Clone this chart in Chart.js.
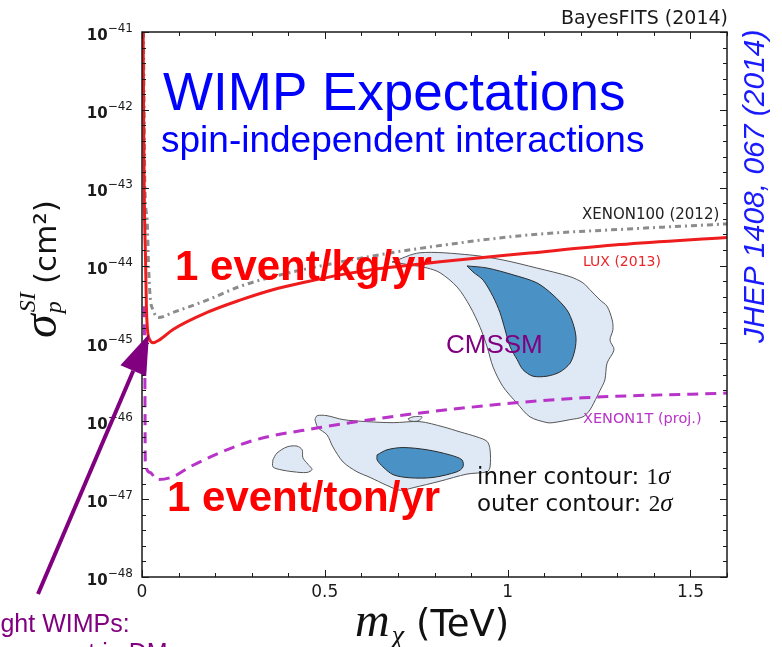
<!DOCTYPE html>
<html>
<head>
<meta charset="utf-8">
<script src="https://cdn.jsdelivr.net/npm/chart.js@4/dist/chart.umd.min.js"></script>
<style>
  html, body { margin: 0; padding: 0; background: #fff; overflow: hidden; }
  canvas { display: block; }
</style>
</head>
<body>
<canvas id="c" width="782" height="647"></canvas>
<script>
// Spin-independent WIMP-proton cross-section (cm^2) against WIMP mass (TeV)

// LUX (2013) exclusion limit
const luxMass  = [0.003, 0.006, 0.010, 0.012, 0.015, 0.021, 0.030, 0.049, 0.085, 0.178, 0.268, 0.358, 0.451, 0.542, 0.632, 0.725, 0.815, 1.060, 1.307, 1.600];
const luxSigma = [1e-41, 1e-43, 1e-44, 3e-45, 1.5e-45, 1.12e-45, 1.02e-45, 1.12e-45, 1.51e-45, 2.5e-45, 3.6e-45, 4.9e-45, 6.2e-45, 7.6e-45, 8.9e-45, 1.0e-44, 1.12e-44, 1.45e-44, 1.86e-44, 2.3e-44];

// XENON100 (2012) exclusion limit
const xenon100Mass  = [0.004, 0.008, 0.014, 0.018, 0.022, 0.030, 0.045, 0.085, 0.178, 0.268, 0.358, 0.632, 0.790, 1.060, 1.330, 1.600];
const xenon100Sigma = [1e-41, 1e-43, 3.9e-44, 1e-44, 4.1e-45, 2.7e-45, 2.15e-45, 2.5e-45, 3.6e-45, 5.4e-45, 7.2e-45, 1.33e-44, 1.74e-44, 2.48e-44, 2.95e-44, 3.43e-44];

// XENON1T projected sensitivity
const xenon1tMass  = [0.006, 0.008, 0.009, 0.022, 0.041, 0.085, 0.131, 0.295, 0.486, 0.596, 0.732, 0.978, 1.205, 1.600];
const xenon1tSigma = [3e-45, 2.9e-46, 2.95e-47, 2.2e-47, 1.78e-47, 1.94e-47, 2.6e-47, 5.5e-47, 8.3e-47, 1.0e-46, 1.23e-46, 1.65e-46, 2.0e-46, 2.3e-46];

// CMSSM posterior regions, [mass TeV, sigma cm^2] outline vertices
const cmssmUpperOuter = [[0.684,1.11e-44],[0.760,1.46e-44],[0.897,1.37e-44],[0.987,1.18e-44],[1.080,9.3e-45],[1.171,7.2e-45],[1.206,6.0e-45],[1.225,4.9e-45],[1.253,3.6e-45],[1.272,3.0e-45],[1.286,2.0e-45],[1.288,1.5e-45],[1.280,1.1e-45],[1.291,8.3e-46],[1.272,5.6e-46],[1.266,3.4e-46],[1.253,2.5e-46],[1.245,2.1e-46],[1.225,1.4e-46],[1.206,1.14e-46],[1.171,1.05e-46],[1.124,9.6e-47],[1.108,9.6e-47],[1.061,1.14e-46],[1.026,1.7e-46],[0.987,2.8e-46],[0.960,5.0e-46],[0.944,9.0e-46],[0.925,1.6e-45],[0.897,3.0e-45],[0.862,5.3e-45],[0.815,8.1e-45],[0.780,9.3e-45],[0.733,1.02e-44]];
const cmssmUpperInner = [[0.889,9.9e-45],[0.944,9.3e-45],[1.015,7.6e-45],[1.080,6.0e-45],[1.124,4.2e-45],[1.162,2.7e-45],[1.179,1.8e-45],[1.187,1.2e-45],[1.184,8.3e-46],[1.171,5.6e-46],[1.143,4.3e-46],[1.108,3.8e-46],[1.069,3.8e-46],[1.042,4.6e-46],[1.026,6.2e-46],[1.007,9.0e-46],[0.993,1.5e-45],[0.979,2.5e-45],[0.960,4.0e-45],[0.933,6.5e-45],[0.905,8.3e-45]];
const cmssmLowerOuter = [[0.473,1.05e-46],[0.479,1.18e-46],[0.506,1.18e-46],[0.550,1.05e-46],[0.615,9.9e-47],[0.687,9.6e-47],[0.760,9.9e-47],[0.823,8.5e-47],[0.870,7.3e-47],[0.916,6.3e-47],[0.944,5.5e-47],[0.952,4.3e-47],[0.952,2.6e-47],[0.944,2.25e-47],[0.889,2.1e-47],[0.815,1.7e-47],[0.741,1.4e-47],[0.706,1.3e-47],[0.670,1.5e-47],[0.624,1.9e-47],[0.588,2.25e-47],[0.550,3.0e-47],[0.522,4.7e-47],[0.506,6.7e-47],[0.481,8.3e-47]];
const cmssmLowerInner = [[0.643,3.7e-47],[0.670,4.3e-47],[0.714,4.6e-47],[0.780,4.3e-47],[0.842,3.7e-47],[0.875,3.2e-47],[0.878,2.6e-47],[0.862,2.25e-47],[0.796,1.9e-47],[0.733,1.88e-47],[0.687,2.06e-47],[0.659,2.6e-47],[0.643,3.2e-47]];
const cmssmIslandLeft = [[0.358,3.2e-47],[0.369,3.9e-47],[0.397,4.7e-47],[0.424,4.8e-47],[0.438,4.3e-47],[0.440,3.4e-47],[0.454,2.8e-47],[0.465,2.4e-47],[0.451,2.2e-47],[0.413,2.25e-47],[0.377,2.4e-47],[0.358,2.6e-47]];
const cmssmIslandSmall = [[0.728,1.08e-46],[0.741,1.14e-46],[0.766,1.14e-46],[0.755,1.01e-46],[0.733,1.01e-46]];

// axis ticks
const xTickValues = [0, 0.5, 1, 1.5];
const xTickLabels = ['0', '0.5', '1', '1.5'];
const yTickExponents = [-41, -42, -43, -44, -45, -46, -47, -48];

const toPoints = (ms, ss) => ms.map((m, i) => ({ x: m, y: ss[i] }));
const toRing = pts => { const r = pts.map(p => ({ x: p[0], y: p[1] })); r.push({ x: pts[0][0], y: pts[0][1] }); return r; };

const lineDs = (data, color, dash) => ({
  data, showLine: true, fill: false, borderColor: color, borderWidth: 3,
  borderDash: dash, pointRadius: 0, cubicInterpolationMode: 'monotone'
});
const OUTER_FILL = '#dfe9f5', INNER_FILL = '#4a92c6';
const regionDs = (pts, fillColor, edge) => ({
  data: toRing(pts), showLine: true, fill: 'shape', backgroundColor: fillColor,
  borderColor: edge, borderWidth: 1, pointRadius: 0, tension: 0.3
});

const datasets = [
  lineDs(toPoints(luxMass, luxSigma), '#ee1c1c', []),
  lineDs(toPoints(xenon1tMass, xenon1tSigma), '#b833c8', [11, 7]),
  lineDs(toPoints(xenon100Mass, xenon100Sigma), '#8c8c8c', [6, 4, 2, 4]),
  regionDs(cmssmUpperInner, INNER_FILL, '#2c2c2c'),
  regionDs(cmssmLowerInner, INNER_FILL, '#2c2c2c'),
  regionDs(cmssmUpperOuter, OUTER_FILL, '#555'),
  regionDs(cmssmLowerOuter, OUTER_FILL, '#555'),
  regionDs(cmssmIslandLeft, OUTER_FILL, '#555'),
  regionDs(cmssmIslandSmall, OUTER_FILL, '#555')
];

const SANS = '"DejaVu Sans", sans-serif';
const ARIAL = '"Liberation Sans", Arial, sans-serif';
const SERIF = '"Liberation Serif", "DejaVu Serif", serif';

const frameAndText = {
  id: 'frameAndText',
  afterDatasetsDraw(chart) {
    const { ctx, chartArea: a, scales: { x, y } } = chart;
    ctx.save();
    ctx.strokeStyle = '#1a1a1a';
    ctx.lineWidth = 1;
    ctx.beginPath();
    // inward ticks on all four sides: x every 0.1, y every 0.2 decade
    for (let k = 0; k <= 16; k++) {
      const px = Math.round(x.getPixelForValue(k / 10)) + 0.5;
      const len = (k % 5 === 0) ? 7 : 4;
      ctx.moveTo(px, a.bottom); ctx.lineTo(px, a.bottom - len);
      ctx.moveTo(px, a.top); ctx.lineTo(px, a.top + len);
    }
    for (let k = 0; k <= 35; k++) {
      const py = Math.round(y.getPixelForValue(Math.pow(10, -48 + k * 0.2))) + 0.5;
      const len = (k % 5 === 0) ? 7 : 4;
      ctx.moveTo(a.left, py); ctx.lineTo(a.left + len, py);
      ctx.moveTo(a.right, py); ctx.lineTo(a.right - len, py);
    }
    ctx.stroke();
    ctx.lineWidth = 1.5;
    ctx.strokeRect(a.left, a.top, a.right - a.left, a.bottom - a.top);

    // tick labels
    ctx.fillStyle = '#1a1a1a';
    ctx.textBaseline = 'alphabetic';
    xTickValues.forEach((v, i) => {
      ctx.font = '17px ' + SANS;
      ctx.textAlign = 'center';
      ctx.fillText(xTickLabels[i], x.getPixelForValue(v), a.bottom + 20);
    });
    ctx.textAlign = 'left';
    yTickExponents.forEach(e => {
      const py = y.getPixelForValue(Math.pow(10, e));
      const exp = '\u2212' + Math.abs(e);
      ctx.font = '12px ' + SANS;
      const we = ctx.measureText(exp).width;
      ctx.font = 'bold 15px ' + SANS;
      const wb = ctx.measureText('10').width;
      const right = a.left - 9;
      ctx.fillText('10', right - we - wb, py + 8);
      ctx.font = '12px ' + SANS;
      ctx.fillText(exp, right - we, py + 0);
    });
    ctx.restore();
  },
  afterDraw(chart) {
    const { ctx, chartArea: a } = chart;
    ctx.save();
    ctx.textBaseline = 'alphabetic';
    ctx.textAlign = 'left';

    // headline
    ctx.fillStyle = '#0000ff';
    ctx.font = '53px ' + ARIAL;
    ctx.fillText('WIMP Expectations', 163, 110);
    ctx.font = '37px ' + ARIAL;
    ctx.fillText('spin-independent interactions', 161, 152);

    // event-rate annotations
    ctx.fillStyle = '#ff0000';
    ctx.font = 'bold 42px ' + ARIAL;
    ctx.fillText('1 event/kg/yr', 175, 280);
    ctx.fillText('1 event/ton/yr', 167, 511);

    ctx.fillStyle = '#800080';
    ctx.font = '26px ' + ARIAL;
    ctx.fillText('CMSSM', 446, 353);

    // experiment labels
    ctx.fillStyle = '#222';
    ctx.font = '15px ' + SANS;
    ctx.fillText('XENON100 (2012)', 582, 219);
    ctx.font = '14px ' + SANS;
    ctx.fillStyle = '#e8262a';
    ctx.fillText('LUX (2013)', 583, 266);
    ctx.fillStyle = '#b833c8';
    ctx.font = '14.5px ' + SANS;
    ctx.fillText('XENON1T (proj.)', 583, 423);

    // contour key
    const key = (label, digit, yb) => {
      ctx.font = '23px ' + SANS;
      ctx.fillText(label, 477, yb);
      const w = ctx.measureText(label).width;
      ctx.font = '23px ' + SERIF;
      ctx.fillText(digit, 477 + w, yb);
      const w1 = ctx.measureText(digit).width;
      ctx.font = 'italic 25px ' + SERIF;
      ctx.fillText('\u03c3', 477 + w + w1, yb);
    };
    ctx.fillStyle = '#111';
    key('inner contour: ', '1', 484);
    key('outer contour: ', '2', 511);

    // credit
    ctx.fillStyle = '#1a1a1a';
    ctx.font = '19px ' + SANS;
    ctx.textAlign = 'right';
    ctx.fillText('BayesFITS (2014)', a.right + 1, 24);
    ctx.textAlign = 'left';

    // journal reference, vertical
    ctx.save();
    ctx.translate(764, 343);
    ctx.rotate(-Math.PI / 2);
    ctx.fillStyle = '#1a1aff';
    ctx.font = 'italic 30px ' + ARIAL;
    ctx.fillText('JHEP 1408, 067 (2014)', 0, 0);
    ctx.restore();

    // y-axis title
    ctx.save();
    ctx.translate(56, 338);
    ctx.rotate(-Math.PI / 2);
    ctx.fillStyle = '#111';
    ctx.font = 'italic 48px ' + SERIF;
    ctx.fillText('\u03c3', 0, 0);
    const ws = ctx.measureText('\u03c3').width;
    ctx.font = 'italic 24px ' + SERIF;
    ctx.fillText('p', ws + 1, 5);
    ctx.fillText('SI', ws + 2, -21);
    ctx.font = '31px ' + SANS;
    ctx.fillText('(cm\u00b2)', 54, 0);
    ctx.restore();

    // x-axis title
    ctx.fillStyle = '#111';
    ctx.font = 'italic 48px ' + SERIF;
    ctx.fillText('m', 355, 636);
    const wm = ctx.measureText('m').width;
    ctx.font = 'italic 28px ' + SERIF;
    ctx.fillText('\u03c7', 355 + wm + 2, 644);
    ctx.font = '37px ' + SANS;
    ctx.fillText('(TeV)', 416, 636);

    // light-WIMP arrow
    const tip = [149, 334], tail = [38, 594];
    const dx = tip[0] - tail[0], dy = tip[1] - tail[1];
    const L = Math.hypot(dx, dy), ux = dx / L, uy = dy / L;
    const bx = tip[0] - 40 * ux, by = tip[1] - 40 * uy;
    ctx.strokeStyle = '#800080';
    ctx.fillStyle = '#800080';
    ctx.lineWidth = 4;
    ctx.beginPath();
    ctx.moveTo(tail[0], tail[1]);
    ctx.lineTo(bx, by);
    ctx.stroke();
    ctx.beginPath();
    ctx.moveTo(tip[0], tip[1]);
    ctx.lineTo(bx - 14 * uy, by + 14 * ux);
    ctx.lineTo(bx + 14 * uy, by - 14 * ux);
    ctx.closePath();
    ctx.fill();

    ctx.font = '25px ' + ARIAL;
    ctx.fillText('Light WIMPs:', -19, 632);
    ctx.fillText('resonant in DM', -2, 661);
    ctx.restore();
  }
};

new Chart(document.getElementById('c'), {
  type: 'scatter',
  data: { datasets },
  options: {
    responsive: false,
    animation: false,
    devicePixelRatio: 1,
    layout: { padding: { left: 142, right: 55, top: 32, bottom: 70 } },
    scales: {
      x: { type: 'linear', min: 0, max: 1.6, display: false },
      y: { type: 'logarithmic', min: 1e-48, max: 1e-41, display: false }
    },
    plugins: { legend: { display: false }, tooltip: { enabled: false } },
    elements: { point: { radius: 0 } }
  },
  plugins: [frameAndText]
});
</script>
</body>
</html>
